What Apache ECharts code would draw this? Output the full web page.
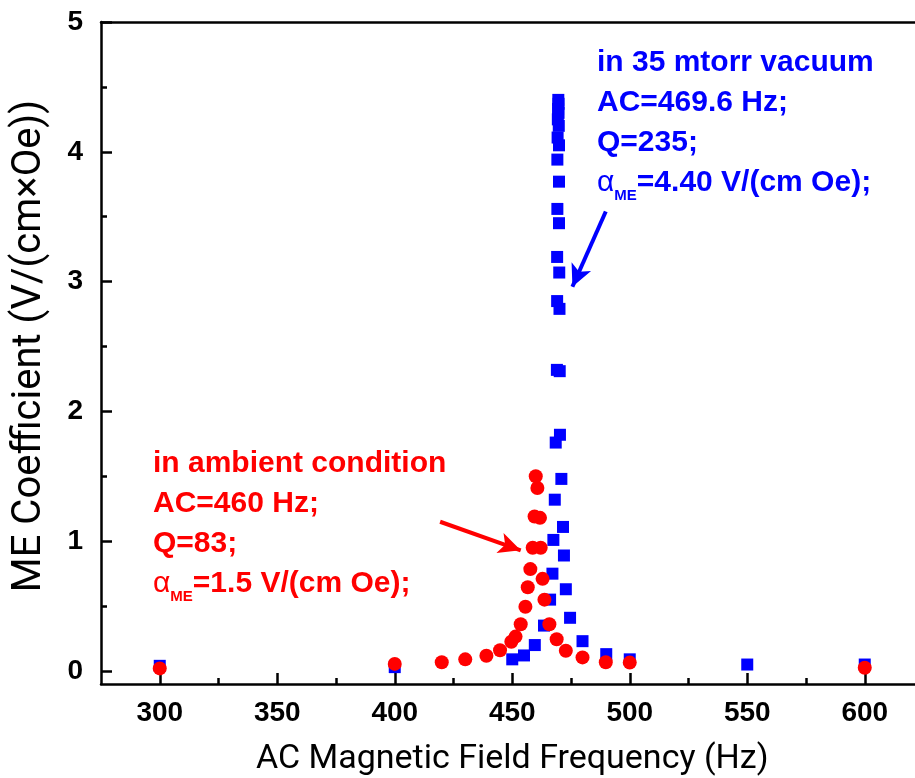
<!DOCTYPE html>
<html>
<head>
<meta charset="utf-8">
<script src="https://cdn.jsdelivr.net/npm/echarts@6/dist/echarts.min.js"></script>
<style>html,body{margin:0;padding:0;background:#fff;}#c{width:915px;height:778px;}</style>
</head>
<body>
<div id="c"></div>
<script>
// Vacuum (35 mtorr) – blue squares
const vacFreq = [300,400,450,455,459.6,463.5,466.1,467.1,467.5,468.1,468.5,469.0,469.1,469.1,469.2,469.2,469.3,469.4,469.5,469.6,469.7,469.7,469.8,469.9,469.9,469.9,470.0,470.1,470.2,470.3,470.9,471.6,472.0,472.8,474.6,479.9,490,500,550,600];
const vacME   = [0.04,0.03,0.09,0.12,0.20,0.35,0.55,0.75,1.01,1.32,1.76,2.32,2.85,3.19,3.56,3.94,4.11,4.25,4.33,4.40,4.37,4.30,4.20,4.05,3.77,3.45,3.07,2.79,2.31,1.82,1.48,1.11,0.89,0.63,0.41,0.23,0.13,0.09,0.05,0.05];
// Ambient condition – red circles
const ambFreq = [300,400,420,430,439,444.8,449.6,451.4,453.6,455.6,456.6,457.7,458.7,459.5,460.0,460.7,461.8,462.1,462.9,463.7,465.8,468.9,472.8,479.9,489.8,500,600];
const ambME   = [0.02,0.055,0.067,0.09,0.118,0.16,0.225,0.265,0.36,0.495,0.645,0.785,0.95,1.19,1.50,1.41,1.18,0.95,0.71,0.55,0.36,0.245,0.156,0.105,0.067,0.065,0.025];
// Axis ticks
const xMajorTicks = [300,350,400,450,500,550,600];
const xMinorTicks = [325,375,425,475,525,575,625];
const yMajorTicks = [0,1,2,3,4,5];
const yMinorTicks = [0.5,1.5,2.5,3.5,4.5];

const vacData = vacFreq.map((f,i)=>[f,vacME[i]]);
const ambData = ambFreq.map((f,i)=>[f,ambME[i]]);

const chart = echarts.init(document.getElementById('c'), null, {renderer:'canvas'});
const axisLine = {show:true, onZero:false, lineStyle:{color:'#000', width:2.5}};
const labelFont = {fontFamily:'Liberation Sans, Arial, sans-serif', fontWeight:'bold', fontSize:28, color:'#000'};
const boldTxt = 'bold 30px "Liberation Sans", Arial, sans-serif';

function annot(x, y, lines, color, sub) {
  const els = [];
  lines.forEach((t, i) => {
    els.push({type:'text', left:x, top:y + i*40, style:{text:t, font:boldTxt, fill:color}});
  });
  els.push({type:'text', left:x, top:y + lines.length*40,
    style:{
      text:'{a|α}{s|ME}{b|' + sub + '}', fill:color,
      rich:{
        a:{fontFamily:'Liberation Sans, Arial, sans-serif', fontSize:30, lineHeight:40, fill:color},
        s:{fontFamily:'Liberation Sans, Arial, sans-serif', fontSize:15, fontWeight:'bold', lineHeight:40, verticalAlign:'bottom', fill:color},
        b:{fontFamily:'Liberation Sans, Arial, sans-serif', fontSize:30, fontWeight:'bold', lineHeight:40, fill:color}
      }
    }});
  return els;
}

const tickStyle = {color:'#000', width:2.5};
const option = {
  animation:false,
  backgroundColor:'#fff',
  grid:{left:101, top:22, right:-8.5, bottom:94, containLabel:false, outerBoundsMode:'none'},
  xAxis:[
    {type:'value', min:275, max:625, position:'bottom',
     name:'AC Magnetic Field Frequency (Hz)', nameLocation:'middle', nameGap:58,
     nameTextStyle:{fontFamily:'Roboto, sans-serif', fontSize:34, color:'#000'},
     axisLine:axisLine, splitLine:{show:false},
     axisTick:{show:true, inside:true, length:11, lineStyle:tickStyle, customValues:xMajorTicks},
     axisLabel:Object.assign({margin:15, customValues:xMajorTicks}, labelFont)},
    {type:'value', min:275, max:625, position:'bottom', gridIndex:0,
     axisLine:{show:false, onZero:false}, splitLine:{show:false},
     axisTick:{show:true, inside:true, length:6, lineStyle:tickStyle, customValues:xMinorTicks},
     axisLabel:{show:false}},
    {type:'value', min:275, max:625, position:'top',
     axisLine:axisLine, splitLine:{show:false}, axisTick:{show:false}, axisLabel:{show:false}}
  ],
  yAxis:[
    {type:'value', min:-0.1, max:5, position:'left',
     axisLine:axisLine, splitLine:{show:false},
     axisTick:{show:true, inside:true, length:11, lineStyle:tickStyle, customValues:yMajorTicks},
     axisLabel:Object.assign({margin:18, customValues:yMajorTicks}, labelFont)},
    {type:'value', min:-0.1, max:5, position:'left',
     axisLine:{show:false, onZero:false}, splitLine:{show:false},
     axisTick:{show:true, inside:true, length:6, lineStyle:tickStyle, customValues:yMinorTicks},
     axisLabel:{show:false}}
  ],
  series:[
    {type:'scatter', name:'vacuum', data:vacData, symbol:'rect', symbolSize:12,
     itemStyle:{color:'#0000ff', opacity:1}, z:2,
     markLine:{silent:true, symbol:['none','arrow'], symbolSize:[16,22], animation:false,
       label:{show:false}, lineStyle:{color:'#0000ff', width:4, type:'solid', opacity:1},
       data:[[{coord:[489.8,3.54]},{coord:[475.6,2.96]}]]}},
    {type:'scatter', name:'ambient', data:ambData, symbol:'circle', symbolSize:14,
     itemStyle:{color:'#ff0000', opacity:1}, z:3,
     markLine:{silent:true, symbol:['none','arrow'], symbolSize:[16,22], animation:false,
       label:{show:false}, lineStyle:{color:'#ff0000', width:4, type:'solid', opacity:1},
       data:[[{coord:[419.3,1.15]},{coord:[453.6,0.93]}]]}}
  ],
  graphic:[].concat(
    [{type:'text', x:30, y:346, rotation:Math.PI/2,
      style:{text:'ME Coefficient (V/(cm×Oe))', font:'40px Roboto, sans-serif', fill:'#000', align:'center', verticalAlign:'middle'}}],
    annot(597, 48, ['in 35 mtorr vacuum','AC=469.6 Hz;','Q=235;'], '#0000ff', '=4.40 V/(cm Oe);'),
    annot(153, 449, ['in ambient condition','AC=460 Hz;','Q=83;'], '#ff0000', '=1.5 V/(cm Oe);')
  )
};
chart.setOption(option);
</script>
</body>
</html>
